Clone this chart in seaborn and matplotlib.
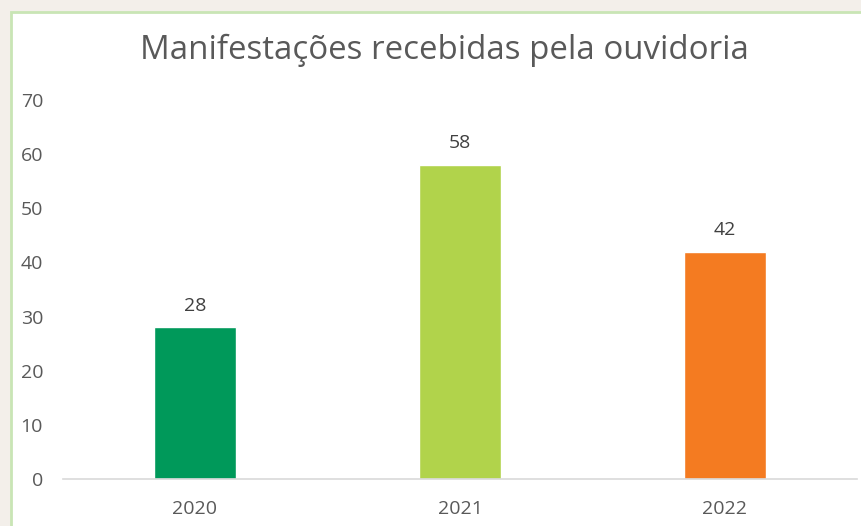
import matplotlib
matplotlib.use("Agg")
import matplotlib.pyplot as plt
import seaborn as sns
import pandas as pd
from matplotlib.patches import Rectangle

years = ["2020", "2021", "2022"]
values = [28, 58, 42]
colors = ["#00995a", "#b1d34b", "#f47b21"]
y_ticks = [0, 10, 20, 30, 40, 50, 60, 70]
title = "Manifestações recebidas pela ouvidoria"

sns.set_theme(style="white")
plt.rcParams["font.family"] = ["Open Sans", "DejaVu Sans"]

W, H = 862, 526
fig = plt.figure(figsize=(W / 100, H / 100), dpi=100)
fig.patch.set_facecolor("#f3efea")

# chart panel (white with light green border)
panel = Rectangle((11 / W, -0.1), 1.2, (H - 12) / H + 0.1, transform=fig.transFigure,
                  facecolor="white", edgecolor="#c9e5b5", linewidth=2, zorder=-10)
fig.patches.append(panel)

ax = fig.add_axes([62.5 / W, (H - 479) / H, 795 / W, 379 / H])
ax.set_facecolor("none")
ax.set_zorder(5)

df = pd.DataFrame({"year": years, "value": values})
sns.barplot(data=df, x="year", y="value", hue="year", palette=colors,
            width=0.313, legend=False, ax=ax, saturation=1)

ax.set_xlim(-0.5, 2.5)
ax.set_ylim(0, 70)
ax.set_yticks(y_ticks)
ax.set_xlabel("")
ax.set_ylabel("")
for s in ["top", "right", "left"]:
    ax.spines[s].set_visible(False)
ax.spines["bottom"].set_color("#d9d9d9")
ax.spines["bottom"].set_linewidth(1.2)
ax.tick_params(axis="both", length=0, labelsize=14, labelcolor="#595959")
ax.tick_params(axis="x", pad=15)
ax.tick_params(axis="y", pad=14)

for c in ax.containers:
    ax.bar_label(c, labels=[f"{int(v)}" for v in c.datavalues], padding=9,
                 fontsize=14, color="#404040")

fig.text(444 / W, 1 - 50 / H, title, ha="center", va="center",
         fontsize=23.8, color="#595959", zorder=10)

fig.savefig("out.png", dpi=100, facecolor=fig.get_facecolor())
